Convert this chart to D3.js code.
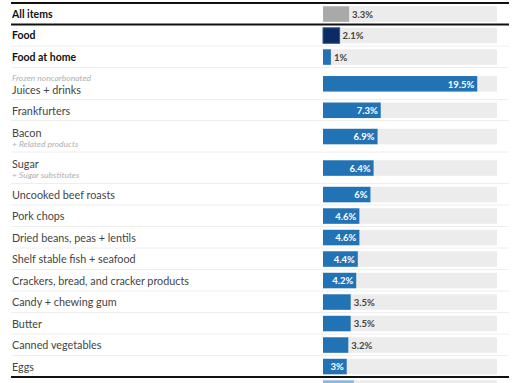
<!DOCTYPE html>
<html><head><meta charset="utf-8">
<script src="https://cdn.jsdelivr.net/npm/d3@7"></script>
<style>
html,body{margin:0;padding:0;background:#fff;}
svg{display:block;}
</style></head>
<body>
<svg id="chart" width="512" height="383"></svg>
<script>
const categories = ["All items","Food","Food at home","Juices + drinks","Frankfurters","Bacon","Sugar",
  "Uncooked beef roasts","Pork chops","Dried beans, peas + lentils","Shelf stable fish + seafood",
  "Crackers, bread, and cracker products","Candy + chewing gum","Butter","Canned vegetables","Eggs",""];
const values = [3.3,2.1,1,19.5,7.3,6.9,6.4,6,4.6,4.6,4.4,4.2,3.5,3.5,3.2,3,3.9];
const kinds = ["total","food","home","item","item","item","item","item","item","item","item","item","item","item","item","item","next"];
const notesAbove = ["","","","Frozen noncarbonated","","","","","","","","","","","","",""];
const notesBelow = ["","","","","","+ Related products","+ Sugar substitutes","","","","","","","","","",""];
const domainMax = 22;

const svg = d3.select("#chart");
const FONT = "Lato, 'Open Sans', sans-serif";
const colors = {total:"#a9a9a9", food:"#0a2b63", home:"#2173b6", item:"#2173b6", next:"#8ab7de"};

const x = d3.scaleLinear().domain([0, domainMax]).range([323, 497]);

// row layout
const rows = categories.map((c,i)=>({name:c, value:values[i], kind:kinds[i], above:notesAbove[i], below:notesBelow[i], i}));
let yTop = 3;
rows.forEach((r,i)=>{
  r.h = (r.above || r.below) ? (i===3 ? 32 : 31.5) : (i===4 ? 21 : 21.5);
  r.top = yTop; r.mid = yTop + r.h/2; yTop += r.h;
});

// separators
rows.forEach((r,i)=>{
  if (i===0) return;
  const thick = (i===1 || r.kind==="next");
  svg.append("line").attr("x1",11).attr("x2",509).attr("y1",r.top).attr("y2",r.top)
    .attr("stroke", thick ? "#111" : "#eeeeee").attr("stroke-width", thick ? 2 : 1);
});
svg.append("line").attr("x1",11).attr("x2",509).attr("y1",3).attr("y2",3).attr("stroke","#111").attr("stroke-width",2);

const barH = 15.5;
const g = svg.append("g");
const rowG = g.selectAll("g.row").data(rows).join("g").attr("class","row");

// track
rowG.append("rect").attr("x",x(0)).attr("width",x(domainMax)-x(0))
  .attr("y",d=>d.mid-barH/2+0.3).attr("height",barH).attr("fill","#ececec");
// bar
rowG.append("rect").attr("x",x(0)).attr("width",d=>x(d.value)-x(0))
  .attr("y",d=>d.mid-barH/2+0.3).attr("height",barH).attr("fill",d=>colors[d.kind])
  .attr("stroke",d=>d.kind==="food"?"#2b5a9a":"none").attr("stroke-width",1);

// value labels
rowG.filter(d=>d.kind!=="next").each(function(d){
  const sel = d3.select(this);
  const t = sel.append("text").attr("font-family",FONT).attr("font-size",9.5).attr("font-weight",700)
    .attr("dominant-baseline","central").attr("y",d.mid+0.5).text(d.value+"%");
  const w = t.node().getComputedTextLength();
  const bw = x(d.value)-x(0);
  if (w + 8 <= bw) {
    t.attr("x",x(d.value)-3).attr("text-anchor","end").attr("fill","#fff");
  } else {
    t.attr("x",x(d.value)+3).attr("text-anchor","start").attr("fill","#444");
  }
});

// category labels
rowG.filter(d=>d.kind!=="next").each(function(d){
  const sel = d3.select(this);
  const bold = d.kind!=="item";
  let mainY = d.mid, noteY = null;
  if (d.above) { noteY = d.top+10; mainY = d.top+21.7; }
  if (d.below) { mainY = d.top+11.7; noteY = d.top+23; }
  sel.append("text").attr("x",12).attr("y",mainY).attr("dominant-baseline","central")
    .attr("font-family",FONT).attr("font-size",bold?10.5:10.8).attr("font-weight",bold?700:400)
    .attr("fill",bold?"#111":"#444").text(d.name);
  if (noteY!==null) {
    sel.append("text").attr("x",12).attr("y",noteY).attr("dominant-baseline","central")
      .attr("font-family",FONT).attr("font-size",8.5).attr("font-style","italic")
      .attr("fill","#b0b0b0").text(d.above || d.below);
  }
});
</script>
</body></html>
